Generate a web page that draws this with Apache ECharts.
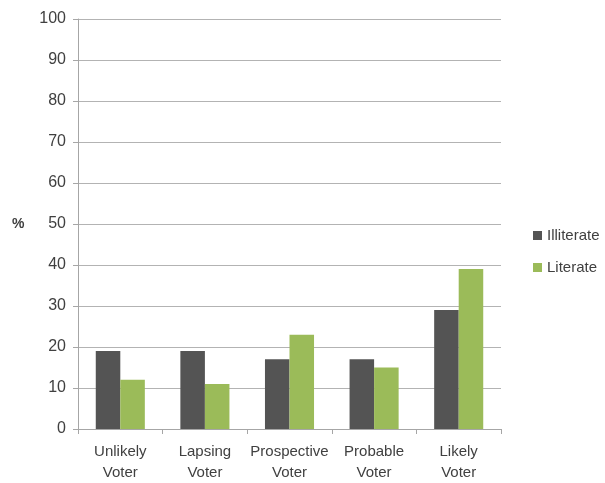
<!DOCTYPE html>
<html>
<head>
<meta charset="utf-8">
<script src="https://cdn.jsdelivr.net/npm/echarts@6/dist/echarts.min.js"></script>
<style>
  html, body { margin: 0; padding: 0; background: #fff; }
  #chart { width: 605px; height: 483px; }
</style>
</head>
<body>
<div id="chart"></div>
<script>
// Voter categories and share (%) by literacy group
const categories = ['Unlikely\nVoter', 'Lapsing\nVoter', 'Prospective\nVoter', 'Probable\nVoter', 'Likely\nVoter'];
const illiterate = [19, 19, 17, 17, 29];
const literate = [12, 11, 23, 15, 39];
const yTicks = { min: 0, max: 100, interval: 10 };

const font = 'Liberation Sans, Arial, sans-serif';
const textColor = '#404040';

const chart = echarts.init(document.getElementById('chart'));
chart.setOption({
  animation: false,
  grid: { left: 78, right: 104, top: 19, bottom: 54 },
  legend: {
    orient: 'vertical',
    left: 528,
    top: 223,
    itemWidth: 9,
    itemHeight: 9,
    itemGap: 17,
    icon: 'rect',
    textStyle: { fontFamily: font, fontSize: 15, color: textColor },
    data: ['Illiterate', 'Literate']
  },
  graphic: [{
    type: 'text',
    left: 12,
    top: 217,
    style: { text: '%', font: 'bold 14px ' + font, fill: textColor }
  }],
  xAxis: {
    type: 'category',
    data: categories,
    axisLine: { lineStyle: { color: '#a6a6a6' } },
    axisTick: { show: true, interval: 0, length: 5, lineStyle: { color: '#a6a6a6' } },
    axisLabel: { interval: 0, fontFamily: font, fontSize: 15, color: textColor, margin: 12, lineHeight: 21 }
  },
  yAxis: {
    type: 'value',
    min: yTicks.min,
    max: yTicks.max,
    interval: yTicks.interval,
    axisLine: { show: true, lineStyle: { color: '#a6a6a6' } },
    axisTick: { show: true, length: 5, lineStyle: { color: '#a6a6a6' } },
    axisLabel: { fontFamily: font, fontSize: 16, color: textColor, margin: 12 },
    splitLine: { lineStyle: { color: '#b3b3b3' } }
  },
  series: [
    {
      name: 'Illiterate',
      type: 'bar',
      data: illiterate,
      barGap: '0%',
      barCategoryGap: '42%',
      itemStyle: { color: '#545454' }
    },
    {
      name: 'Literate',
      type: 'bar',
      data: literate,
      barGap: '0%',
      barCategoryGap: '42%',
      itemStyle: { color: '#9bbb59' }
    }
  ]
});
</script>
</body>
</html>
